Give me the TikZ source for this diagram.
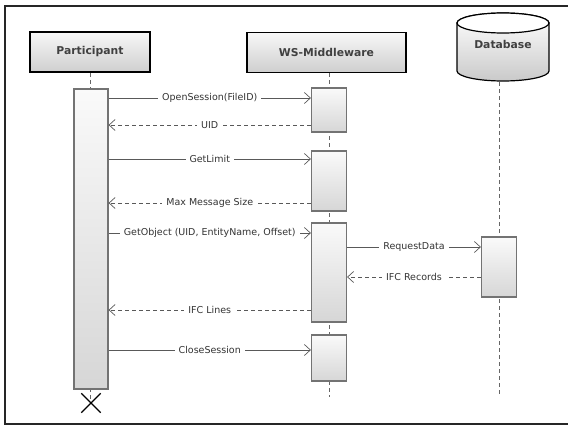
\documentclass[tikz,border=0pt]{standalone}
\usepackage{fontspec}
\setmainfont{DejaVu Sans}
\usepackage{tikz}
\usetikzlibrary{arrows.meta}

\tikzset{
  head/.style={draw=black, line width=1.6pt, top color=gray!6, bottom color=gray!38,
    minimum height=40pt, inner sep=0pt, text=black!75,
    font=\bfseries\fontsize{10.8}{13}\selectfont},
  act/.style={draw=black!55, line width=1.2pt, top color=gray!4, bottom color=gray!32,
    minimum width=35pt, inner sep=0pt},
  life/.style={draw=black!60, line width=0.9pt, dash pattern=on 4pt off 3pt},
  call/.style={draw=black!65, line width=0.7pt, ->},
  reply/.style={call, dash pattern=on 4pt off 3pt},
  lbl/.style={fill=white, inner xsep=4pt, inner ysep=1.5pt, text=black!80,
    font=\fontsize{9.5}{11}\selectfont},
}

\begin{document}
\begin{tikzpicture}[x=1pt, y=-1pt, >={Straight Barb[length=6pt,width=11pt]}]
\useasboundingbox (0,0) rectangle (568,425);
\draw[black!85, line width=1.2pt] (568,6) -- (5,6) -- (5,424) -- (568,424);

% heads
\node[head, minimum width=120pt] (part) at (90,52) {Participant};
\node[head, minimum width=159pt] (mw) at (326.5,52.5) {WS-Middleware};
% database drum
\node[inner sep=0pt, minimum width=92pt, minimum height=69pt] (db) at (503,47.5) {};
\draw[black, line width=1.2pt, top color=white, bottom color=gray!42]
  (457,23) -- (457,71) arc[start angle=180, end angle=360, x radius=46pt, y radius=10pt]
  -- (549,23) arc[start angle=0, end angle=180, x radius=46pt, y radius=10pt] -- cycle;
\draw[black, line width=1.2pt, fill=white] (503,23) ellipse[x radius=46pt, y radius=10pt];
\node[text=black!75, font=\bfseries\fontsize{10.8}{13}\selectfont] (dbname)
  at (503,44) {Database};

% lifelines
\coordinate (pEnd) at (90.5,399);
\coordinate (mEnd) at (329,397);
\coordinate (dEnd) at (499,397);
\draw[life] (part.south -| pEnd) -- (pEnd);
\draw[life] (mw.south -| mEnd) -- (mEnd);
\draw[life] (db.south -| dEnd) -- (dEnd);

% activations
\node[act, minimum width=34pt, minimum height=300pt] (pA) at (91,239) {};
\node[act, minimum height=44pt] (mA1) at (329,110) {};
\node[act, minimum height=60pt] (mA2) at (329,181) {};
\node[act, minimum height=99pt] (mA3) at (329,272.5) {};
\node[act, minimum height=46pt] (mA4) at (329,358) {};
\node[act, minimum height=60pt] (dA) at (499,267) {};

% destroy
\node[inner sep=0pt, minimum size=19pt] (stop) at (91,403) {};
\draw[black, line width=1.2pt] (stop.north west) -- (stop.south east)
  (stop.north east) -- (stop.south west);

% messages
\draw[call] (pA.east |- 0,98) -- (mA1.west |- 0,98) node[lbl, midway] {OpenSession(FileID)};
\draw[reply] (mA1.west |- 0,125) -- (pA.east |- 0,125) node[lbl, midway] {UID};
\draw[call] (pA.east |- 0,159) -- (mA2.west |- 0,159) node[lbl, midway] {GetLimit};
\draw[reply] (mA2.west |- 0,203) -- (pA.east |- 0,203) node[lbl, midway] {Max Message Size};
\draw[call] (pA.east |- 0,233) -- (mA3.west |- 0,233) node[lbl, midway] {GetObject (UID, EntityName, Offset)};
\draw[call] (mA3.east |- 0,247) -- (dA.west |- 0,247) node[lbl, midway] {RequestData};
\draw[reply] (dA.west |- 0,277) -- (mA3.east |- 0,277) node[lbl, midway] {IFC Records};
\draw[reply] (mA3.west |- 0,310) -- (pA.east |- 0,310) node[lbl, midway] {IFC Lines};
\draw[call] (pA.east |- 0,350) -- (mA4.west |- 0,350) node[lbl, midway] {CloseSession};
\end{tikzpicture}
\end{document}
